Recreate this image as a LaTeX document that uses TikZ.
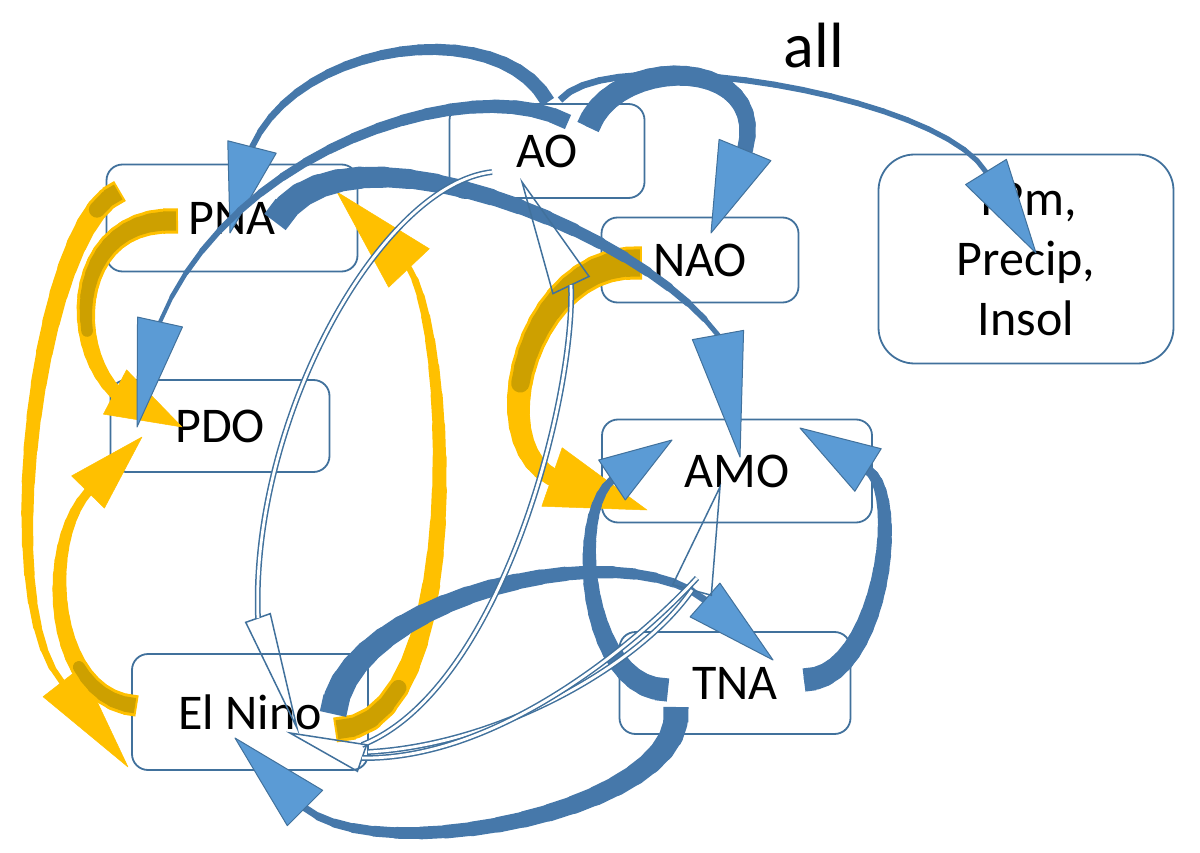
\documentclass[tikz,border=0pt]{standalone}
\usepackage{fontspec}
\setmainfont{Carlito}
\usetikzlibrary{calc}
\definecolor{boxline}{RGB}{65,113,156}
\definecolor{bband}{RGB}{70,120,170}
\definecolor{bhead}{RGB}{91,155,213}
\definecolor{ygold}{RGB}{255,192,0}
\definecolor{ydark}{RGB}{205,160,0}
\tikzset{
  box/.style={draw=boxline, line width=1.8pt, rounded corners=16pt, fill=white, align=center, inner sep=0pt, font=\fontsize{50}{60}\selectfont},
  blueband/.style={draw=bband},
  bluehead/.style={fill=bhead, draw=boxline, line width=1pt, line join=round},
  yelband/.style={draw=ygold},
  yelhead/.style={fill=ygold, draw=ygold, line width=0.5pt, line join=round},
  thinband/.style={draw=boxline, line width=1.5pt, double=white, double distance=2.8pt},
  thinhead/.style={draw=boxline, line width=1.5pt, line join=miter},
}
% curved tapered arrow: A, B, C, D (head base), tip, w0, w1, head width, kind
\newcommand{\cArrow}[9]{%
  \foreach \k in {0,...,20}{\pgfmathsetmacro\tpos{\k/20}\path #1 .. controls #2 and #3 .. #4 coordinate[pos=\tpos] (tb\k);}%
  \foreach \k [remember=\k as \kp (initially 0)] in {1,...,20}{%
    \pgfmathsetmacro\lw{#6+(#7-#6)*\k/20}%
    \ifnum\k=1\relax
      \draw[#9band, line width=\lw pt, line cap=butt] (tb\kp) -- (tb\k);%
    \else
      \draw[#9band, line width=\lw pt, line cap=round] (tb\kp) -- (tb\k);%
    \fi}%
  \pgfmathsetmacro\hw{#8/2}%
  \coordinate (hd) at #4;%
  \coordinate (tp) at #5;%
  \draw[#9head] ($(hd)!\hw pt!90:(tp)$) -- (tp) -- ($(hd)!\hw pt!-90:(tp)$) -- cycle;%
}
\newcommand{\dTail}[3]{%
  \foreach \k [remember=\k as \kp (initially 0)] in {1,...,#1}{%
    \pgfmathsetmacro\lw{#2+(#3-#2)*\k/20-6}%
    \ifnum\k=1\relax
      \draw[draw=ydark, line width=\lw pt, line cap=butt] ($(tb\kp)!2pt!(tb\k)$) -- (tb\k);%
    \else
      \draw[draw=ydark, line width=\lw pt, line cap=round] (tb\kp) -- (tb\k);%
    \fi}%
}
\newcommand{\tArrow}[6]{%
  \pgfmathsetmacro\hw{#6/2}%
  \coordinate (hd) at #4;%
  \coordinate (tp) at #5;%
  \draw[thinhead] ($(hd)!\hw pt!90:(tp)$) -- (tp) -- ($(hd)!\hw pt!-90:(tp)$) -- cycle;%
  \draw[thinband] #1 .. controls #2 and #3 .. #4;%
}
\begin{document}
\begin{tikzpicture}[x=1pt, y=-1pt]
\useasboundingbox (0,0) rectangle (1200,853);
% boxes
\node[box, minimum width=195pt, minimum height=94pt] (AO) at (547,151) {AO};
\node[box, minimum width=251pt, minimum height=107pt] (PNA) at (232,218) {PNA};
\node[box, minimum width=197pt, minimum height=85pt] (NAO) at (700,260) {NAO};
\node[box, minimum width=295pt, minimum height=209pt, rounded corners=36pt] (TPM) at (1026,259) {T2m,\\Precip,\\Insol};
\node[box, minimum width=219pt, minimum height=92pt] (PDO) at (220,426) {PDO};
\node[box, minimum width=270pt, minimum height=103pt] (AMO) at (737,471) {AMO};
\node[box, minimum width=236pt, minimum height=116pt] (ELN) at (250,712) {El Nino};
\node[box, minimum width=231pt, minimum height=102pt] (TNA) at (735,683) {TNA};
\node[anchor=base, font=\fontsize{64}{70}\selectfont, inner sep=0pt] (all) at (814,68) {all};
% yellow arrows
\cArrow{(120,191)}{(40,220)}{(-10,600)}{(62,682)}{(128,767)}{24}{6}{48}{yel}
\dTail{2}{24}{6}
\cArrow{(137,706)}{(50,700)}{(40,545)}{(88,492)}{(142,437)}{22}{9}{46}{yel}
\dTail{6}{22}{9}
\cArrow{(178,221)}{(75,215)}{(65,340)}{(115,392)}{(182,427)}{26}{14}{50}{yel}
\dTail{14}{26}{14}
\cArrow{(335,730)}{(470,730)}{(450,330)}{(409,268)}{(337,192)}{26}{6}{56}{yel}
\dTail{4}{26}{6}
\cArrow{(642,263)}{(530,255)}{(480,440)}{(552,477)}{(647,510)}{34}{18}{62}{yel}
\dTail{12}{34}{18}
% blue arrows
\cArrow{(548,102)}{(500,15)}{(300,40)}{(252,147)}{(230,233)}{15}{6}{50}{blue}
\cArrow{(568,122)}{(470,70)}{(230,150)}{(160,322)}{(137,427)}{16}{4}{46}{blue}
\cArrow{(560,100)}{(610,40)}{(940,95)}{(986,172)}{(1036,253)}{7}{5}{48}{blue}
\cArrow{(588,127)}{(615,55)}{(770,55)}{(745,150)}{(711,233)}{24}{16}{56}{blue}
\cArrow{(275,222)}{(340,110)}{(640,230)}{(718,335)}{(740,457)}{28}{5}{52}{blue}
\cArrow{(333,714)}{(345,600)}{(620,530)}{(705,600)}{(773,660)}{28}{7}{45}{blue}
\cArrow{(676,707)}{(690,810)}{(380,870)}{(305,808)}{(235,738)}{26}{7}{50}{blue}
\cArrow{(804,680)}{(880,680)}{(905,495)}{(868,470)}{(800,428)}{24}{10}{50}{blue}
\cArrow{(668,690)}{(585,690)}{(570,515)}{(612,480)}{(672,440)}{24}{8}{48}{blue}
% thin outlined arrows
\tArrow{(362,745)}{(500,690)}{(575,400)}{(571,285)}{(522,182)}{40}
\tArrow{(492,172)}{(380,185)}{(250,420)}{(258,618)}{(297,728)}{26}
\tArrow{(368,752)}{(500,745)}{(640,665)}{(692,590)}{(720,487)}{40}
\tArrow{(697,578)}{(640,640)}{(500,760)}{(362,758)}{(290,733)}{28}
\end{tikzpicture}
\end{document}
